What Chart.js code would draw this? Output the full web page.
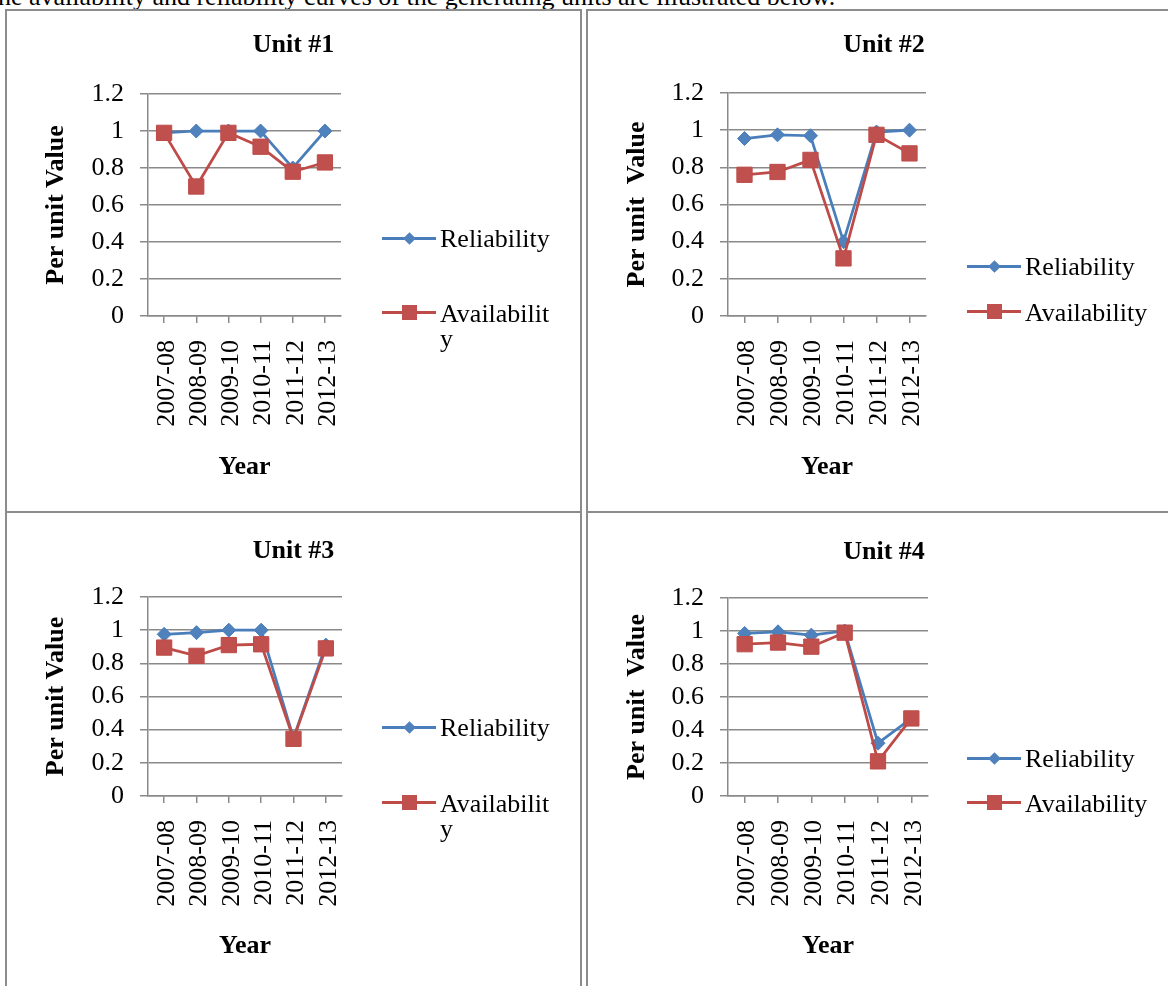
<!DOCTYPE html>
<html lang="en">
<head>
  <meta charset="UTF-8">
  <title>Reliability and Availability of Generating Units</title>
  <script src="https://cdn.jsdelivr.net/npm/chart.js"></script>
  <style>
    body {
      margin: 0;
      width: 1168px;
      height: 986px;
      overflow: hidden;
      position: relative;
      background: #fff;
      font-family: 'Liberation Serif', 'Times New Roman', serif;
    }
    .intro {
      position: absolute;
      left: -18px;
      top: -16px;
      font-size: 26px;
      line-height: 26px;
      white-space: nowrap;
    }
    .cell {
      position: absolute;
      box-sizing: border-box;
      border: 2px solid #8c8c8c;
    }
    canvas {
      position: absolute;
    }
    .leg {
      position: absolute;
      font-size: 26px;
      line-height: 25px;
    }
    .leg .line {
      position: absolute;
      left: 0;
      width: 54px;
      height: 3px;
    }
    .leg .mark {
      position: absolute;
    }
    .leg .txt {
      position: absolute;
      left: 58px;
      white-space: nowrap;
    }
    .leg .txt.wrap {
      width: 118px;
      white-space: normal;
      word-break: break-all;
    }
  </style>
</head>
<body>

  <div class="intro">The availability and reliability curves of the generating units are illustrated below.</div>

  <div class="cell" style="left:5px;top:9px;width:577px;height:504px"></div>
  <div class="cell" style="left:586px;top:9px;width:600px;height:504px"></div>
  <div class="cell" style="left:5px;top:511px;width:577px;height:600px"></div>
  <div class="cell" style="left:586px;top:511px;width:600px;height:600px"></div>

  <canvas id="unit1" width="573" height="500" style="left:7px;top:11px"></canvas>
  <canvas id="unit2" width="592" height="500" style="left:588px;top:11px"></canvas>
  <canvas id="unit3" width="573" height="473" style="left:7px;top:513px"></canvas>
  <canvas id="unit4" width="592" height="473" style="left:588px;top:513px"></canvas>

  <div id="legends"></div>

  <script>
    // financial years on the x axis
    const years = ["2007-08", "2008-09", "2009-10", "2010-11", "2011-12", "2012-13"];
    const yTicks = ["0", "0.2", "0.4", "0.6", "0.8", "1", "1.2"];

    const unit1Reliability  = [0.99, 1.0, 1.0, 1.0, 0.80, 1.0];
    const unit1Availability = [0.99, 0.70, 0.99, 0.915, 0.78, 0.83];

    const unit2Reliability  = [0.955, 0.975, 0.97, 0.40, 0.99, 1.0];
    const unit2Availability = [0.76, 0.775, 0.84, 0.31, 0.975, 0.875];

    const unit3Reliability  = [0.975, 0.985, 1.0, 1.0, 0.35, 0.91];
    const unit3Availability = [0.895, 0.845, 0.91, 0.915, 0.345, 0.89];

    const unit4Reliability  = [0.985, 0.995, 0.975, 1.0, 0.32, 0.47];
    const unit4Availability = [0.92, 0.93, 0.905, 0.99, 0.21, 0.47];

    const blue = "#4a7ebb";
    const red = "#be4b48";
    const gridColor = "#8a8a8a";
    const serif = "'Liberation Serif', 'Times New Roman', serif";
    const LH = 26 * 1.2;

    // page-pixel layout of each panel
    const panels = [
      { id: "unit1", title: "Unit #1", yTitle: "Per unit Value", rel: unit1Reliability, avail: unit1Availability,
        canvas: { left: 7, top: 11, w: 573, h: 500 }, plot: { left: 148, right: 341, top: 94, bottom: 316 },
        titleY: 45, yTitleX: 56, xTitleY: 467, legend: { x: 382, rel: 237, avail: 311, wrap: true } },
      { id: "unit2", title: "Unit #2", yTitle: "Per unit  Value", rel: unit2Reliability, avail: unit2Availability,
        canvas: { left: 588, top: 11, w: 592, h: 500 }, plot: { left: 728, right: 926, top: 93, bottom: 316 },
        titleY: 45, yTitleX: 637, xTitleY: 467, legend: { x: 967, rel: 265, avail: 310, wrap: false } },
      { id: "unit3", title: "Unit #3", yTitle: "Per unit Value", rel: unit3Reliability, avail: unit3Availability,
        canvas: { left: 7, top: 513, w: 573, h: 473 }, plot: { left: 148, right: 342, top: 597, bottom: 796 },
        titleY: 551, yTitleX: 56, xTitleY: 946, legend: { x: 382, rel: 726, avail: 801, wrap: true } },
      { id: "unit4", title: "Unit #4", yTitle: "Per unit  Value", rel: unit4Reliability, avail: unit4Availability,
        canvas: { left: 588, top: 513, w: 592, h: 473 }, plot: { left: 728, right: 928, top: 598, bottom: 796 },
        titleY: 552, yTitleX: 637, xTitleY: 946, legend: { x: 967, rel: 757, avail: 801, wrap: false } }
    ];

    function buildChart(p) {
      const c = p.canvas;
      const titleTop = (p.titleY - c.top) - LH / 2;
      const titleBottom = (p.plot.top - c.top) - titleTop - LH;
      const yWidth = p.plot.left - c.left;
      const rightWidth = c.w - (p.plot.right - c.left);
      const xHeight = c.h - (p.plot.bottom - c.top);
      const yTitlePad = (p.yTitleX - c.left) - LH / 2;
      const xTitlePad = c.h - (p.xTitleY - c.top) - LH / 2;

      new Chart(document.getElementById(p.id), {
        type: "line",
        data: {
          labels: years,
          datasets: [
            {
              label: "Reliability",
              data: p.rel,
              borderColor: blue,
              backgroundColor: "#4f81bd",
              borderWidth: 2.75,
              pointStyle: "rectRot",
              pointRadius: 7,
              pointBorderWidth: 1,
              tension: 0,
              order: 2
            },
            {
              label: "Availability",
              data: p.avail,
              borderColor: red,
              backgroundColor: "#c0504d",
              borderWidth: 2.75,
              pointStyle: "rect",
              pointRadius: 10.8,
              pointBorderWidth: 1,
              tension: 0,
              order: 1
            }
          ]
        },
        options: {
          responsive: false,
          animation: false,
          devicePixelRatio: 1,
          layout: {
            padding: 0
          },
          plugins: {
            legend: { display: false },
            tooltip: { enabled: false },
            title: {
              display: true,
              text: p.title,
              color: "#000",
              font: { family: serif, size: 26, weight: "bold" },
              padding: { top: titleTop, bottom: titleBottom }
            }
          },
          scales: {
            x: {
              offset: true,
              afterFit: s => { s.height = xHeight; },
              grid: { drawOnChartArea: false, drawTicks: true, tickLength: 7, color: gridColor, lineWidth: 1.5 },
              border: { display: true, color: gridColor, width: 1.5 },
              ticks: {
                autoSkip: false,
                minRotation: 90,
                maxRotation: 90,
                padding: 17,
                labelOffset: 3,
                color: "#000",
                font: { family: serif, size: 26 }
              },
              title: {
                display: true,
                text: "Year",
                color: "#000",
                font: { family: serif, size: 26, weight: "bold" },
                padding: { top: 0, bottom: xTitlePad }
              }
            },
            y: {
              min: 0,
              max: 1.2,
              afterFit: s => { s.width = yWidth; },
              grid: { color: gridColor, lineWidth: 1.5, tickLength: 8 },
              border: { display: true, color: gridColor, width: 1.5 },
              ticks: {
                stepSize: 0.2,
                autoSkip: false,
                padding: 16,
                color: "#000",
                font: { family: serif, size: 26 },
                callback: (v, i) => yTicks[i]
              },
              title: {
                display: true,
                text: p.yTitle,
                color: "#000",
                font: { family: serif, size: 26, weight: "bold" },
                padding: { top: yTitlePad, bottom: 0 }
              }
            },
            // empty right-hand axis that reserves room for the legend
            space: {
              type: "linear",
              position: "right",
              afterFit: s => { s.width = rightWidth; },
              grid: { display: false },
              border: { display: false },
              ticks: { display: false },
              title: { display: false }
            }
          }
        }
      });
    }

    // legend drawn as html next to each chart
    function buildLegend(p) {
      const box = document.getElementById("legends");
      const items = [
        { text: "Reliability", color: blue, fill: "#4f81bd", y: p.legend.rel, diamond: true },
        { text: "Availability", color: red, fill: "#c0504d", y: p.legend.avail, diamond: false }
      ];
      items.forEach(it => {
        const d = document.createElement("div");
        d.className = "leg";
        d.style.left = p.legend.x + "px";
        d.style.top = it.y + "px";
        const markCss = it.diamond
          ? `left:${27 - 4.5}px;top:${-4.5 + 1.5}px;width:9px;height:9px;transform:rotate(45deg);background:${it.fill}`
          : `left:${27 - 7.5}px;top:${-7.5 + 1.5}px;width:15px;height:15px;background:${it.fill}`;
        const cls = p.legend.wrap ? "txt wrap" : "txt";
        d.innerHTML =
          `<div class="line" style="top:0;background:${it.color}"></div>` +
          `<div class="mark" style="${markCss}"></div>` +
          `<div class="${cls}" style="top:${-11 + (it.diamond ? 0 : 1)}px">${it.text}</div>`;
        box.appendChild(d);
      });
    }

    panels.forEach(p => { buildChart(p); buildLegend(p); });
  </script>

</body>
</html>
